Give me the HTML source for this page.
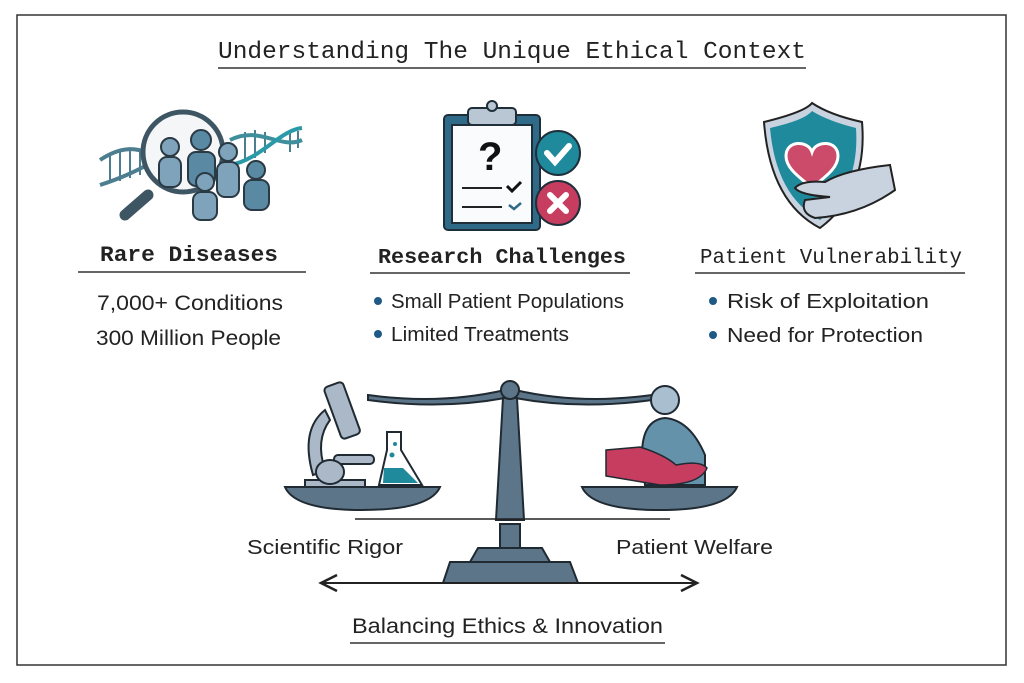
<!DOCTYPE html>
<html><head><meta charset="utf-8"><style>
html,body{margin:0;padding:0;background:#fff;}
svg{display:block;}
.m{font-family:"Liberation Mono",monospace;fill:#222;}
.s{font-family:"Liberation Sans",sans-serif;fill:#222;}
</style></head><body>
<svg width="1024" height="683" viewBox="0 0 1024 683" xmlns="http://www.w3.org/2000/svg">
<rect x="17" y="15" width="989" height="650" fill="#fff" stroke="#333" stroke-width="1.5"/>
<text class="m" x="218" y="58" font-size="24" textLength="588" lengthAdjust="spacingAndGlyphs">Understanding The Unique Ethical Context</text>
<line x1="218" y1="68" x2="806" y2="68" stroke="#333" stroke-width="1.5"/>

<!-- Icon 1 -->
<g stroke="#4d7e90" stroke-width="2">
<line x1="110" y1="155" x2="110" y2="183"/><line x1="120" y1="151" x2="120" y2="181"/><line x1="130" y1="150" x2="130" y2="178"/><line x1="140" y1="152" x2="140" y2="175"/>
<line x1="245" y1="132" x2="245" y2="162"/><line x1="255" y1="130" x2="255" y2="158"/><line x1="265" y1="132" x2="265" y2="153"/><line x1="290" y1="133" x2="290" y2="152"/><line x1="298" y1="131" x2="298" y2="148"/>
</g>
<g stroke="#2a3a45" stroke-width="2">
<path d="M100,160 C130,140 150,150 170,170" fill="none" stroke="#4d7e90" stroke-width="4"/>
<path d="M100,185 C130,175 150,165 170,150" fill="none" stroke="#4d7e90" stroke-width="4"/>
<path d="M230,140 C260,125 280,150 302,140" fill="none" stroke="#3f8e9c" stroke-width="4"/>
<path d="M230,165 C260,160 280,130 302,128" fill="none" stroke="#2a9aa8" stroke-width="4"/>
<line x1="148" y1="195" x2="125" y2="215" stroke="#3e5563" stroke-width="11" stroke-linecap="round"/>
<circle cx="183" cy="152" r="40" fill="#f4f6f8" stroke="#3e5563" stroke-width="5"/>
<circle cx="170" cy="147" r="9" fill="#7fa3ba"/><rect x="159" y="157" width="22" height="30" rx="8" fill="#7fa3ba"/>
<circle cx="201" cy="140" r="10" fill="#5a8aa3"/><rect x="188" y="152" width="27" height="34" rx="8" fill="#5a8aa3"/>
<circle cx="228" cy="152" r="9" fill="#7fa3ba"/><rect x="217" y="162" width="22" height="35" rx="8" fill="#7fa3ba"/>
<circle cx="205" cy="182" r="9" fill="#7fa3ba"/><rect x="193" y="192" width="24" height="28" rx="8" fill="#7fa3ba"/>
<circle cx="256" cy="170" r="9" fill="#5a8aa3"/><rect x="244" y="180" width="25" height="30" rx="8" fill="#5a8aa3"/>
</g>
<text class="m" x="100" y="261" font-size="22" font-weight="bold" textLength="178" lengthAdjust="spacingAndGlyphs">Rare Diseases</text>
<line x1="78" y1="272" x2="306" y2="272" stroke="#333" stroke-width="1.5"/>
<text class="s" x="97" y="310" font-size="21" textLength="186" lengthAdjust="spacingAndGlyphs">7,000+ Conditions</text>
<text class="s" x="96" y="345" font-size="21" textLength="185" lengthAdjust="spacingAndGlyphs">300 Million People</text>

<!-- Icon 2 -->
<g stroke="#1f2f3a" stroke-width="2">
<rect x="444" y="115" width="96" height="115" rx="4" fill="#2f6a88"/>
<rect x="452" y="125" width="80" height="98" fill="#fafbfc"/>
<rect x="468" y="108" width="48" height="17" rx="4" fill="#b9c6d3"/>
<circle cx="492" cy="106" r="5" fill="#b9c6d3"/>
<circle cx="558" cy="153" r="22" fill="#1f8a9c"/>
<circle cx="558" cy="203" r="22" fill="#c63d60"/>
</g>
<text x="478" y="170" font-family="Liberation Sans,sans-serif" font-size="40" font-weight="bold" fill="#111">?</text>
<path d="M547,153 l8,9 l14,-16" stroke="#fff" stroke-width="6" fill="none" stroke-linecap="round"/>
<path d="M550,195 l16,16 M566,195 l-16,16" stroke="#fff" stroke-width="6" stroke-linecap="round"/>
<line x1="462" y1="188" x2="502" y2="188" stroke="#222" stroke-width="2"/>
<line x1="462" y1="207" x2="502" y2="207" stroke="#222" stroke-width="2"/>
<path d="M507,186 l5,5 l9,-9" stroke="#111" stroke-width="3" fill="none"/>
<path d="M509,205 l5,4 l7,-6" stroke="#2f6a88" stroke-width="2.5" fill="none"/>
<text class="m" x="378" y="263" font-size="21" font-weight="bold" textLength="248" lengthAdjust="spacingAndGlyphs">Research Challenges</text>
<line x1="370" y1="273" x2="630" y2="273" stroke="#333" stroke-width="1.5"/>
<circle cx="378" cy="301" r="4" fill="#1f5a86"/>
<text class="s" x="391" y="308" font-size="20" textLength="233" lengthAdjust="spacingAndGlyphs">Small Patient Populations</text>
<circle cx="378" cy="334" r="4" fill="#1f5a86"/>
<text class="s" x="391" y="341" font-size="20" textLength="178" lengthAdjust="spacingAndGlyphs">Limited Treatments</text>

<!-- Icon 3 -->
<path d="M764,122 Q805,112 812,103 Q830,115 862,122 Q868,192 820,228 Q770,202 764,122Z" fill="#c8d3df" stroke="#222" stroke-width="2"/>
<path d="M770,128 Q805,120 812,111 Q828,121 856,128 Q860,188 820,220 Q776,196 770,128Z" fill="#1f8a9c"/>
<path d="M786,156 C786,140 808,140 812,152 C816,140 838,140 838,156 C838,170 820,180 812,188 C804,180 786,170 786,156Z" fill="#cc4a6a" stroke="#fff" stroke-width="3"/>
<path d="M890,165 L895,190 Q860,215 815,218 Q800,213 805,200 L830,197 Q800,195 795,188 Q802,180 825,182 Q845,170 890,165Z" fill="#c8d3df" stroke="#222" stroke-width="2"/>
<text class="m" x="700" y="263" font-size="21" textLength="262" lengthAdjust="spacingAndGlyphs">Patient Vulnerability</text>
<line x1="695" y1="273" x2="965" y2="273" stroke="#333" stroke-width="1.5"/>
<circle cx="713" cy="301" r="4" fill="#1f5a86"/>
<text class="s" x="727" y="308" font-size="20" textLength="202" lengthAdjust="spacingAndGlyphs">Risk of Exploitation</text>
<circle cx="713" cy="335" r="4" fill="#1f5a86"/>
<text class="s" x="727" y="342" font-size="20" textLength="196" lengthAdjust="spacingAndGlyphs">Need for Protection</text>

<!-- Scale -->
<g stroke="#1f2a33" stroke-width="2" fill="#5d7588">
<path d="M368,395 Q440,405 505,390 L515,390 Q580,405 652,395 L652,400 Q580,410 515,398 L505,398 Q440,410 368,400Z"/>
<path d="M503,398 L517,398 L524,520 L496,520Z"/>
<circle cx="510" cy="390" r="9"/>
<path d="M285,487 L440,487 Q430,510 362,510 Q295,510 285,487Z"/>
<path d="M582,487 L737,487 Q727,510 660,510 Q592,510 582,487Z"/>
<rect x="500" y="524" width="20" height="24"/>
<path d="M478,548 L542,548 L550,562 L470,562Z"/>
<path d="M450,562 L570,562 L578,583 L443,583Z"/>
</g>
<line x1="355" y1="519" x2="670" y2="519" stroke="#222" stroke-width="1.5"/>
<g stroke="#1f2a33" stroke-width="2" fill="#aab8c8">
<rect x="305" y="480" width="60" height="7"/>
<path d="M313,475 Q300,430 325,410 L330,420 Q315,440 325,470Z"/>
<rect x="332" y="383" width="20" height="55" rx="4" transform="rotate(-20 342 410)"/>
<rect x="334" y="455" width="40" height="9" rx="4"/>
<ellipse cx="330" cy="472" rx="14" ry="12"/>
<path d="M387,432 L401,432 L401,450 L422,485 L379,485 L387,450Z" fill="#fff"/>
<path d="M384,468 L403,468 L418,483 L383,483Z" fill="#1f8a9c" stroke="none"/>
</g>
<circle cx="395" cy="444" r="2" fill="#1f8a9c"/><circle cx="392" cy="455" r="2.5" fill="#1f8a9c"/>
<circle cx="665" cy="400" r="14" fill="#a9bfd0" stroke="#1f2a33" stroke-width="2"/>
<path d="M642,455 Q642,420 665,418 Q690,420 705,455 L705,485 L645,485Z" fill="#6592ab" stroke="#1f2a33" stroke-width="2"/>
<path d="M606,450 L640,447 Q665,455 676,465 Q700,460 707,468 Q700,485 660,485 Q630,480 606,476Z" fill="#c63d60" stroke="#1f2a33" stroke-width="1.5"/>
<text class="s" x="247" y="554" font-size="20" textLength="156" lengthAdjust="spacingAndGlyphs">Scientific Rigor</text>
<text class="s" x="616" y="554" font-size="20" textLength="157" lengthAdjust="spacingAndGlyphs">Patient Welfare</text>
<line x1="322" y1="583" x2="696" y2="583" stroke="#222" stroke-width="2"/>
<path d="M337,575 L321,583 L337,591" fill="none" stroke="#222" stroke-width="2.5"/>
<path d="M681,575 L697,583 L681,591" fill="none" stroke="#222" stroke-width="2.5"/>
<text class="s" x="352" y="633" font-size="21" textLength="311" lengthAdjust="spacingAndGlyphs">Balancing Ethics &amp; Innovation</text>
<line x1="350" y1="643" x2="665" y2="643" stroke="#333" stroke-width="1.5"/>
</svg>
</body></html>
